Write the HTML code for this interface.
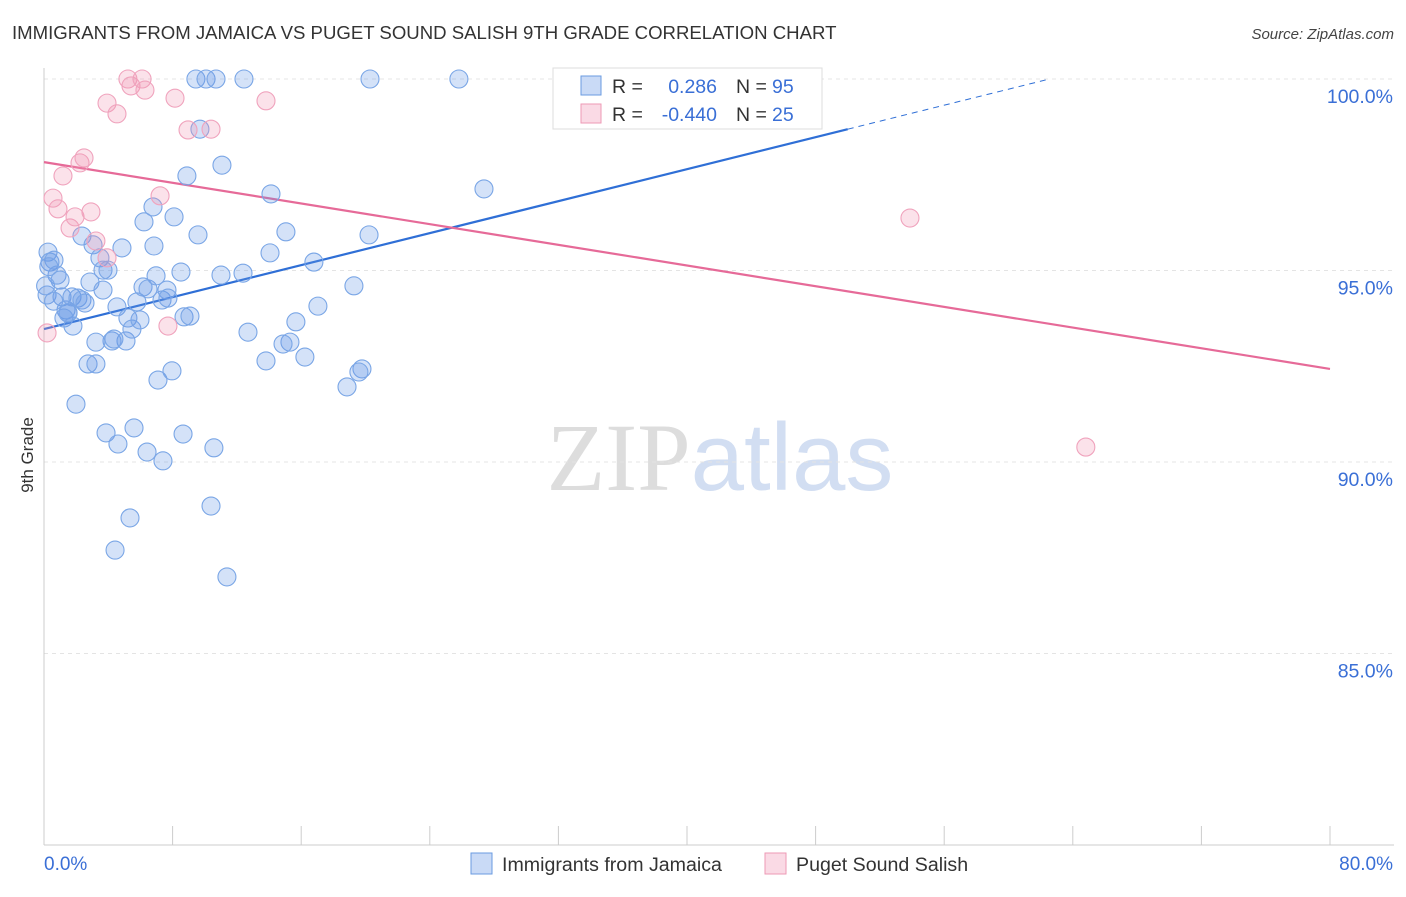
<!DOCTYPE html>
<html><head><meta charset="utf-8">
<style>
body{margin:0;background:#fff;font-family:"Liberation Sans",sans-serif;}
svg text{font-family:"Liberation Sans",sans-serif;}
</style></head>
<body>
<svg id="chart" width="1406" height="892" xmlns="http://www.w3.org/2000/svg">
<text x="12" y="39" font-size="18.6" fill="#333">IMMIGRANTS FROM JAMAICA VS PUGET SOUND SALISH 9TH GRADE CORRELATION CHART</text>
<text x="1394" y="39" font-size="15" fill="#444" text-anchor="end" font-style="italic">Source: ZipAtlas.com</text>
<text x="720" y="490" font-size="96" text-anchor="middle"><tspan fill="#ddd" font-family="Liberation Serif">ZIP</tspan><tspan fill="#d2def2">atlas</tspan></text>
<text transform="translate(33,455) rotate(-90)" font-size="17" fill="#333" text-anchor="middle">9th Grade</text>
<g id="grid"></g><g id="axes"></g><g id="trends"></g><g id="points"></g>
<g>
<rect x="553" y="68" width="269" height="61" fill="#fff" stroke="#ddd"/>
<rect x="581" y="76" width="20" height="19" fill="rgba(100,150,230,0.35)" stroke="#6a9be0"/>
<rect x="581" y="104" width="20" height="19" fill="rgba(240,150,180,0.35)" stroke="#ee99b5"/>
<text x="612" y="93" font-size="19.5" fill="#333">R =</text>
<text x="717" y="93" font-size="19.5" fill="#3a6fd6" text-anchor="end">0.286</text>
<text x="736" y="93" font-size="19.5" fill="#333">N =</text>
<text x="772" y="93" font-size="19.5" fill="#3a6fd6">95</text>
<text x="612" y="121" font-size="19.5" fill="#333">R =</text>
<text x="717" y="121" font-size="19.5" fill="#3a6fd6" text-anchor="end">-0.440</text>
<text x="736" y="121" font-size="19.5" fill="#333">N =</text>
<text x="772" y="121" font-size="19.5" fill="#3a6fd6">25</text>
</g>
<g>
<rect x="471" y="853" width="21" height="21" fill="rgba(100,150,230,0.35)" stroke="#6a9be0"/>
<text x="502" y="871" font-size="19.6" fill="#333">Immigrants from Jamaica</text>
<rect x="765" y="853" width="21" height="21" fill="rgba(240,150,180,0.35)" stroke="#ee99b5"/>
<text x="796" y="871" font-size="19.6" fill="#333">Puget Sound Salish</text>
</g>
</svg>
<script>
const blueX=[.25,.37,.62,.81,1.0,.19,1.12,1.37,1.49,1.24,1.80,1.74,2.11,2.36,2.55,2.36,3.05,3.48,3.67,3.98,2.86,3.67,4.54,4.85,5.22,5.10,5.47,5.78,5.97,6.16,6.47,6.78,6.22,6.84,6.97,7.34,7.65,7.71,8.09,8.52,8.71,9.08,8.89,9.58,9.70,9.45,10.08,10.70,12.44,20.28,25.81,42.67,11.07,11.01,12.38,12.69,14.12,14.06,15.05,15.30,14.87,15.67,16.23,16.79,17.04,13.81,19.28,20.22,19.78,19.59,18.85,27.37,2.74,3.23,4.23,4.35,1.99,3.86,4.60,5.60,6.41,7.40,8.65,10.57,7.09,7.96,5.35,4.42,10.39,11.38,3.23,0.1,0.3,0.6,1.5];
const blueY=[95.48,95.22,95.27,94.88,94.75,94.36,94.31,93.97,93.89,93.76,93.55,94.31,94.28,94.23,94.15,95.90,95.67,95.33,95.01,95.01,94.70,94.49,94.05,95.59,93.76,93.16,93.47,94.18,93.71,94.57,94.52,96.66,96.27,95.64,94.86,94.23,94.49,94.28,96.40,94.96,93.79,93.81,97.47,95.93,98.69,100,100,100,100,100,100,100,97.75,94.88,94.93,93.39,97.0,95.46,96.01,93.13,93.08,93.66,92.74,95.22,94.07,92.64,94.60,95.93,92.43,92.35,91.96,97.13,92.56,92.56,93.16,93.21,91.51,90.76,90.47,90.89,90.26,90.03,90.73,90.37,92.14,92.38,88.54,87.70,88.85,87.0,93.13,94.6,95.1,94.2,93.9];
const pinkX=[.56,.87,1.18,1.62,1.93,2.24,2.49,2.92,3.23,3.92,.19,3.92,4.54,5.22,5.41,6.10,6.28,8.15,7.22,8.96,10.39,13.81,7.71,53.87,64.81];
const pinkY=[96.89,96.61,97.47,96.11,96.40,97.81,97.94,96.53,95.77,95.33,93.37,99.37,99.09,100,99.82,100,99.71,99.50,96.95,98.67,98.69,99.43,93.55,96.37,90.39];
const yTicks=[100,95,90,85];
const yTickLabels=["100.0%","95.0%","90.0%","85.0%"];
const xTicks=[0,8,16,24,32,40,48,56,64,72,80];
const blueTrend=[93.47,0.1044];
const pinkTrend=[97.83,-0.0675];
const NS="http://www.w3.org/2000/svg";
function sx(v){return 44+v/80*1286;}
function sy(v){return 79+(100-v)*38.3;}
function mk(tag,attrs,parent){const e=document.createElementNS(NS,tag);for(const k in attrs)e.setAttribute(k,attrs[k]);document.getElementById(parent).appendChild(e);return e;}
yTicks.forEach((t,i)=>{
 const g=mk('line',{x1:44,x2:1394,y1:sy(t),y2:sy(t),stroke:'#e4e4e4','stroke-dasharray':'4,4'},'grid');
 
 
 const tx=mk('text',{x:1393,y:sy(t)+24,'font-size':19.5,fill:'#3a6fd6','text-anchor':'end'},'grid');
 tx.textContent=yTickLabels[i];
 
 
});
const ax=mk('line',{x1:44,x2:1394,y1:845,y2:845,stroke:'#ccc'},'axes');


const ay=mk('line',{x1:44,x2:44,y1:68,y2:845,stroke:'#ccc'},'axes');


xTicks.forEach(t=>{
 const l=mk('line',{x1:sx(t),x2:sx(t),y1:826,y2:845,stroke:'#ccc'},'axes');
 
 
});
const xl0=mk('text',{x:44,y:870,'font-size':19,fill:'#3a6fd6'},'axes');xl0.textContent='0.0%';


const xl1=mk('text',{x:1393,y:870,'font-size':19,fill:'#3a6fd6','text-anchor':'end'},'axes');xl1.textContent='80.0%';


blueX.forEach((x,i)=>{
 const c=mk('circle',{cx:sx(x),cy:sy(blueY[i]),r:9,fill:'rgba(100,150,230,0.28)',stroke:'#7aa6e6','stroke-width':1.1},'points');
 
 
});
pinkX.forEach((x,i)=>{
 const c=mk('circle',{cx:sx(x),cy:sy(pinkY[i]),r:9,fill:'rgba(240,150,180,0.28)',stroke:'#f0a3bd','stroke-width':1.1},'points');
 
 
});
const bEnd=50, bMax=(100-blueTrend[0])/blueTrend[1];
const b1=mk('line',{x1:sx(0),y1:sy(blueTrend[0]),x2:sx(bEnd),y2:sy(blueTrend[0]+blueTrend[1]*bEnd),stroke:'#2f6fd6','stroke-width':2.2},'trends');


const b2=mk('line',{x1:sx(bEnd),y1:sy(blueTrend[0]+blueTrend[1]*bEnd),x2:sx(bMax),y2:sy(100),stroke:'#2f6fd6','stroke-width':1,'stroke-dasharray':'6,5'},'trends');


const p1=mk('line',{x1:sx(0),y1:sy(pinkTrend[0]),x2:sx(80),y2:sy(pinkTrend[0]+pinkTrend[1]*80),stroke:'#e66a98','stroke-width':2.2},'trends');


</script>
</body></html>
